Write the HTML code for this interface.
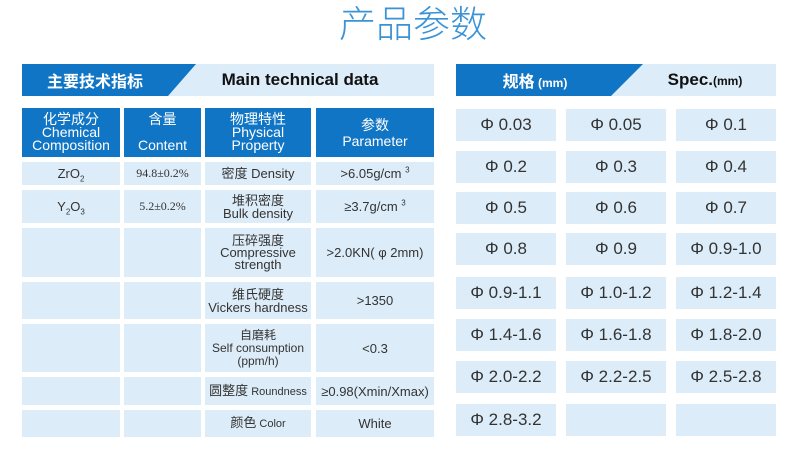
<!DOCTYPE html>
<html><head><meta charset="utf-8"><style>
body{margin:0;width:800px;height:467px;background:#fff;position:relative;overflow:hidden;font-family:"Liberation Sans","Noto Sans CJK SC",sans-serif;color:#333}
.a{position:absolute;display:flex;align-items:center;justify-content:center;text-align:center;box-sizing:border-box}
.c{background:#dcedf9}
.h{background:#1075c4;color:#fff;line-height:13px;font-size:14px}
.t{font-size:13px;line-height:13px}
.s{font-size:17px;color:#333}
sub,sup{line-height:0}
</style></head><body>
<div class="a" style="left:313px;top:0;width:200px;height:42px;font-size:37px;color:#3a93d6;font-family:'Noto Sans CJK SC',sans-serif;font-weight:300">产品参数</div>
<svg style="position:absolute;left:0;top:0" width="800" height="467">
<rect x="22" y="64" width="412" height="32" fill="#dcedf9"/>
<polygon points="22,64 196,64 168,96 22,96" fill="#1075c4"/>
<rect x="456" y="64" width="320" height="32" fill="#dcedf9"/>
<polygon points="456,64 643,64 611,96 456,96" fill="#1075c4"/>
</svg>
<div class="a" style="left:30px;top:64px;width:130px;height:32px;color:#fff;font-weight:bold;font-size:16px">主要技术指标</div>
<div class="a" style="left:200px;top:64px;width:200px;height:32px;color:#111;font-weight:bold;font-size:17px">Main technical data</div>
<div class="a" style="left:480px;top:64px;width:110px;height:32px;color:#fff;font-weight:bold;font-size:16px"><span>规格<span style="font-size:12px">&nbsp;(mm)</span></span></div>
<div class="a" style="left:640px;top:64px;width:130px;height:32px;color:#111;font-weight:bold;font-size:17px"><span>Spec.<span style="font-size:12px">(mm)</span></span></div>

<div class="a h" style="left:22px;top:108px;width:98px;height:49px"><span>化学成分<br>Chemical<br>Composition</span></div>
<div class="a h" style="left:124px;top:108px;width:77px;height:49px"><span>含量<br><br>Content</span></div>
<div class="a h" style="left:205px;top:108px;width:106px;height:49px"><span>物理特性<br>Physical<br>Property</span></div>
<div class="a h" style="left:316px;top:108px;width:118px;height:49px;line-height:16px"><span>参数<br>Parameter</span></div>

<div class="a c t" style="left:22px;top:162px;width:98px;height:23px"><span>ZrO<sub style="font-size:8px">2</sub></span></div>
<div class="a c t" style="left:124px;top:162px;width:77px;height:23px;font-family:'Liberation Serif';font-size:12px">94.8±0.2%</div>
<div class="a c t" style="left:205px;top:162px;width:106px;height:23px">密度 Density</div>
<div class="a c t" style="left:316px;top:162px;width:118px;height:23px"><span>&gt;6.05g/cm <sup style="font-size:8px">3</sup></span></div>

<div class="a c t" style="left:22px;top:190px;width:98px;height:33px"><span>Y<sub style="font-size:8px">2</sub>O<sub style="font-size:8px">3</sub></span></div>
<div class="a c t" style="left:124px;top:190px;width:77px;height:33px;font-family:'Liberation Serif';font-size:12px">5.2±0.2%</div>
<div class="a c t" style="left:205px;top:190px;width:106px;height:33px"><span>堆积密度<br>Bulk density</span></div>
<div class="a c t" style="left:316px;top:190px;width:118px;height:33px"><span>≥3.7g/cm <sup style="font-size:8px">3</sup></span></div>

<div class="a c" style="left:22px;top:228px;width:98px;height:49px"></div>
<div class="a c" style="left:124px;top:228px;width:77px;height:49px"></div>
<div class="a c t" style="left:205px;top:228px;width:106px;height:49px;line-height:12px"><span>压碎强度<br>Compressive<br>strength</span></div>
<div class="a c t" style="left:316px;top:228px;width:118px;height:49px">&gt;2.0KN( φ 2mm)</div>

<div class="a c" style="left:22px;top:282px;width:98px;height:37px"></div>
<div class="a c" style="left:124px;top:282px;width:77px;height:37px"></div>
<div class="a c t" style="left:205px;top:282px;width:106px;height:37px"><span>维氏硬度<br>Vickers hardness</span></div>
<div class="a c t" style="left:316px;top:282px;width:118px;height:37px">&gt;1350</div>

<div class="a c" style="left:22px;top:324px;width:98px;height:48px"></div>
<div class="a c" style="left:124px;top:324px;width:77px;height:48px"></div>
<div class="a c t" style="left:205px;top:324px;width:106px;height:48px;font-size:12px;line-height:13px"><span>自磨耗<br>Self consumption<br>(ppm/h)</span></div>
<div class="a c t" style="left:316px;top:324px;width:118px;height:48px">&lt;0.3</div>

<div class="a c" style="left:22px;top:377px;width:98px;height:28px"></div>
<div class="a c" style="left:124px;top:377px;width:77px;height:28px"></div>
<div class="a c t" style="left:205px;top:377px;width:106px;height:28px;white-space:nowrap"><span>圆整度<span style="font-size:11px">&nbsp;Roundness</span></span></div>
<div class="a c t" style="left:316px;top:377px;width:118px;height:28px;white-space:nowrap">≥0.98(Xmin/Xmax)</div>

<div class="a c" style="left:22px;top:410px;width:98px;height:27px"></div>
<div class="a c" style="left:124px;top:410px;width:77px;height:27px"></div>
<div class="a c t" style="left:205px;top:410px;width:106px;height:27px"><span>颜色<span style="font-size:11px">&nbsp;Color</span></span></div>
<div class="a c t" style="left:316px;top:410px;width:118px;height:27px">White</div>

<div class="a c s" style="left:456px;top:109px;width:100px;height:32px">Φ 0.03</div>
<div class="a c s" style="left:566px;top:109px;width:100px;height:32px">Φ 0.05</div>
<div class="a c s" style="left:676px;top:109px;width:100px;height:32px">Φ 0.1</div>
<div class="a c s" style="left:456px;top:151px;width:100px;height:32px">Φ 0.2</div>
<div class="a c s" style="left:566px;top:151px;width:100px;height:32px">Φ 0.3</div>
<div class="a c s" style="left:676px;top:151px;width:100px;height:32px">Φ 0.4</div>
<div class="a c s" style="left:456px;top:192px;width:100px;height:32px">Φ 0.5</div>
<div class="a c s" style="left:566px;top:192px;width:100px;height:32px">Φ 0.6</div>
<div class="a c s" style="left:676px;top:192px;width:100px;height:32px">Φ 0.7</div>
<div class="a c s" style="left:456px;top:233px;width:100px;height:32px">Φ 0.8</div>
<div class="a c s" style="left:566px;top:233px;width:100px;height:32px">Φ 0.9</div>
<div class="a c s" style="left:676px;top:233px;width:100px;height:32px">Φ 0.9-1.0</div>
<div class="a c s" style="left:456px;top:277px;width:100px;height:32px">Φ 0.9-1.1</div>
<div class="a c s" style="left:566px;top:277px;width:100px;height:32px">Φ 1.0-1.2</div>
<div class="a c s" style="left:676px;top:277px;width:100px;height:32px">Φ 1.2-1.4</div>
<div class="a c s" style="left:456px;top:319px;width:100px;height:32px">Φ 1.4-1.6</div>
<div class="a c s" style="left:566px;top:319px;width:100px;height:32px">Φ 1.6-1.8</div>
<div class="a c s" style="left:676px;top:319px;width:100px;height:32px">Φ 1.8-2.0</div>
<div class="a c s" style="left:456px;top:361px;width:100px;height:32px">Φ 2.0-2.2</div>
<div class="a c s" style="left:566px;top:361px;width:100px;height:32px">Φ 2.2-2.5</div>
<div class="a c s" style="left:676px;top:361px;width:100px;height:32px">Φ 2.5-2.8</div>
<div class="a c s" style="left:456px;top:404px;width:100px;height:32px">Φ 2.8-3.2</div>
<div class="a c s" style="left:566px;top:404px;width:100px;height:32px"></div>
<div class="a c s" style="left:676px;top:404px;width:100px;height:32px"></div>
</body></html>
